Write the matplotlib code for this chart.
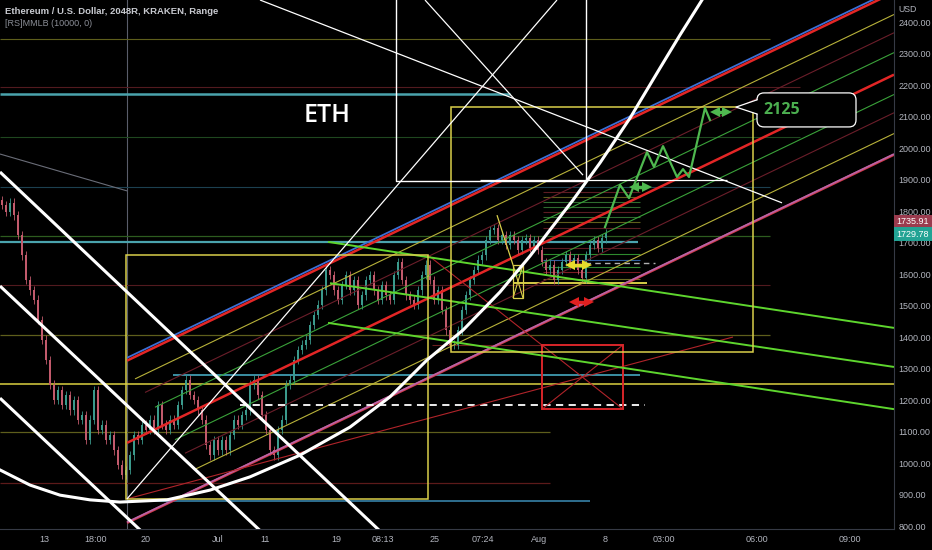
import matplotlib
matplotlib.use("Agg")
import matplotlib.pyplot as plt
from matplotlib.patches import Rectangle, FancyBboxPatch, Polygon
import numpy as np

plt.rcParams['font.family'] = ['Liberation Sans Narrow', 'Liberation Sans', 'DejaVu Sans']

# ---------------- data ----------------
title = "Ethereum / U.S. Dollar, 2048R, KRAKEN, Range"
indicator = "[RS]MMLB (10000, 0)"

closes = [1819, 1797, 1826, 1787, 1724, 1660, 1581, 1549, 1518, 1454,
          1391, 1327, 1248, 1200, 1232, 1184, 1216, 1168, 1200, 1137,
          1152, 1073, 1137, 1232, 1105, 1121, 1073, 1089, 1041, 994,
          962, 978, 1025, 1089, 1073, 1121, 1105, 1137, 1105, 1184,
          1121, 1105, 1137, 1121, 1184, 1232, 1264, 1216, 1200, 1168,
          1137, 1057, 1025, 1073, 1041, 1073, 1041, 1089, 1137, 1121,
          1152, 1168, 1248, 1264, 1216, 1152, 1105, 1041, 1025, 1105,
          1137, 1248, 1264, 1327, 1359, 1375, 1391, 1438, 1470, 1502,
          1549, 1613, 1597, 1549, 1518, 1565, 1597, 1549, 1581, 1502,
          1533, 1581, 1597, 1549, 1518, 1565, 1533, 1518, 1597, 1638,
          1581, 1533, 1518, 1502, 1549, 1597, 1629, 1581, 1518, 1549,
          1486, 1422, 1375, 1375, 1422, 1486, 1533, 1581, 1613, 1645,
          1660, 1708, 1740, 1746, 1708, 1724, 1692, 1724, 1708, 1676,
          1708, 1714, 1683, 1708, 1676, 1638, 1613, 1629, 1581, 1613,
          1638, 1660, 1629, 1651, 1613, 1587, 1660, 1692, 1708, 1683,
          1714, 1730]

xtick_pos = [44, 96, 146, 218, 265, 336, 383, 435, 483, 539, 605, 664, 757, 850]
xtick_labels = ["13", "18:00", "20", "Jul", "11", "19", "08:13", "25",
                "07:24", "Aug", "8", "03:00", "06:00", "09:00"]
ytick_vals = list(range(800, 2401, 100))
last_high = 1735.91
last_close = 1729.78
target_label = "2125"

# horizontal levels: price, x0, x1, colour, width
hlevels = [
    (2346, 0, 770, '#5e5e1c', 0.8),
    (2194, 0, 800, '#521a1f', 0.8),
    (2172, 0, 510, '#4aa3ad', 1.8),
    (2035, 0, 800, '#1f471f', 0.8),
    (1876, 0, 770, '#1c4050', 0.8),
    (1721, 0, 770, '#2d5c1f', 0.9),
    (1702, 0, 638, '#4aa3ad', 1.6),
    (1565, 0, 770, '#521a1f', 0.8),
    (1406, 0, 770, '#5e5e1c', 0.9),
    (1279, 173, 640, '#3b8fa3', 1.4),
    (1251, 0, 894, '#c9bf3c', 1.2),
    (1098, 0, 550, '#5e5e1c', 0.9),
    (936, 0, 550, '#5c1a1a', 0.9),
    (879, 127, 590, '#2f6f8f', 1.4),
    (1375, 432, 543, '#6b1e1e', 0.8),
    (1572, 513, 647, '#e6dc4c', 1.3),
]
short_levels = [1860, 1845, 1829, 1813, 1797, 1781, 1765, 1746,
                1683, 1664, 1645, 1622, 1606, 1584]
short_colors = ['#5c1c22', '#5e5e1c', '#2e6b2e', '#2e6b2e', '#5c1c22', '#2e6b2e', '#5e5e1c',
                '#5c1c22', '#5c1c22', '#2e8a2e', '#2f5f9f', '#2e8a2e', '#7a1c22', '#6b6b1f']
dashed_levels = [(1184, 240, 645, '#ffffff', 1.3), (1635, 585, 655, '#b0b0b0', 1.0)]

# rising channel lines: start x, start price, end x, end price, colour, width
channel = [
    (127, 1334, 894, 2503, '#3c6fd6', 1.3),
    (127, 1325, 894, 2494, '#e32626', 1.8),
    (135, 1267, 894, 2424, '#b8b23a', 0.8),
    (145, 1224, 894, 2366, '#6b1e2a', 0.8),
    (155, 1177, 894, 2303, '#3aa23a', 0.8),
    (127, 1064, 894, 2233, '#e32626', 1.8),
    (175, 1074, 894, 2170, '#3aa23a', 0.8),
    (185, 1031, 894, 2112, '#6b1e2a', 0.8),
    (195, 980, 894, 2046, '#b8b23a', 0.8),
    (127, 810, 894, 1979, '#d23a4a', 1.8),
    (127, 812, 894, 1981, '#b864a8', 1.2),
]
# descending green lines
green_desc = [(328, 1702, 894, 1429), (330, 1571, 894, 1305), (328, 1445, 894, 1171)]
# thick white descending lines
white_thick = [(0, 1924, 400, 724), (0, 1562, 280, 726), (0, 1206, 160, 728)]
# thin white lines
white_thin = [(127, 886, 557, 2470), (260, 2470, 782, 1826), (425, 2470, 583, 1914),
              (480, 1899, 727, 1899)]
# white arc
arc_x = [0, 30, 60, 90, 120, 167, 210, 250, 300, 350, 390, 427, 463, 500,
         530, 550, 573, 600, 630, 660, 680, 702]
arc_p = [978, 930, 898, 883, 876, 883, 914, 956, 1025, 1114, 1210, 1327, 1422,
         1543, 1657, 1740, 1835, 1953, 2095, 2254, 2359, 2470]
# projected path
path_x = [605, 620, 629, 647, 654, 663, 677, 683, 689, 705, 710]
path_p = [1749, 1883, 1841, 1987, 1940, 2006, 1908, 1933, 1908, 2127, 2089]

# ---------------- figure ----------------
fig = plt.figure(figsize=(9.32, 5.5), dpi=100, facecolor='black')
ax = fig.add_axes([0, 21 / 550, 894 / 932, 529 / 550])
ax.set_facecolor('black')
ax.set_xlim(0, 894)
ax.set_ylim(790.5, 2470)

def seg(x0, p0, x1, p1, c, lw, z=3, ls='-', dashes=None):
    l, = ax.plot([x0, x1], [p0, p1], color=c, lw=lw, zorder=z, ls=ls,
                 solid_capstyle='butt')
    if dashes:
        l.set_dashes(dashes)
    return l

# thin horizontal levels
for p, x0, x1, c, lw in hlevels:
    seg(x0, p, x1, p, c, lw, z=1.5)
for p, c in zip(short_levels, short_colors):
    seg(543, p, 640, p, c, 0.8, z=1.5)
for p, x0, x1, c, lw in dashed_levels:
    seg(x0, p, x1, p, c, lw, z=3, dashes=(4, 3))

# crosshair-like vertical and grey line
ax.axvline(127, color='#5a5d6a', lw=0.8, zorder=1.4)
seg(0, 1981, 127, 1864, '#6a6d78', 0.8)

# candles
n = len(closes)
xs = 2 + 4 * np.arange(n)
opens = [closes[0] + 15] + closes[:-1]
cs = np.array(closes)
os_ = np.array(opens)
up = cs >= os_
col = np.where(up, '#3b9a8c', '#c25a6c')
hi = np.maximum(cs, os_) + 14
lo = np.minimum(cs, os_) - 14
ax.vlines(xs, lo, hi, colors=col, lw=0.6, zorder=2)
ax.bar(xs, cs - os_, bottom=os_, width=1.8, color=col, zorder=2.1, linewidth=0)

# channel
for x0, p0, x1, p1, c, lw in channel:
    seg(x0, p0, x1, p1, c, lw, z=2.5)

# red thin lines & red box
seg(127, 886, 733, 1400, '#b0242a', 0.8)
seg(428, 1660, 623, 1171, '#b0242a', 0.8)
seg(542, 1171, 623, 1375, '#b0242a', 0.8)
ax.add_patch(Rectangle((542, 1171), 81, 204, fill=False, ec='#d8262a', lw=1.4, zorder=3))

# green descending
for x0, p0, x1, p1 in green_desc:
    seg(x0, p0, x1, p1, '#5ed62e', 1.4)

# yellow boxes
ax.add_patch(Rectangle((126, 886), 302, 774, fill=False, ec='#d9cf4a', lw=1.1, zorder=3))
ax.add_patch(Rectangle((451, 1352), 302, 778, fill=False, ec='#d9cf4a', lw=1.1, zorder=3))
seg(497, 1787, 513, 1629, '#d9cf4a', 0.9)
ax.add_patch(Rectangle((513, 1524), 10, 105, fill=False, ec='#d9cf4a', lw=0.9, zorder=3))
seg(513, 1629, 523, 1524, '#d9cf4a', 0.8)
seg(513, 1524, 523, 1629, '#d9cf4a', 0.8)

# white elements
for x0, p0, x1, p1 in white_thick:
    seg(x0, p0, x1, p1, '#ffffff', 2.2, z=4)
for x0, p0, x1, p1 in white_thin:
    seg(x0, p0, x1, p1, '#ffffff', 0.9, z=4)
ax.plot([396, 396, 586, 586], [2500, 1895, 1895, 2500], color='#ffffff', lw=1.0, zorder=4)
ax.plot(arc_x, arc_p, color='#ffffff', lw=2.2, zorder=4, solid_joinstyle='round')

# projected path & arrows
ax.plot(path_x, path_p, color='#4fb84f', lw=1.6, zorder=5)
def darrow(x0, x1, p, c):
    ax.plot([x0 + 3, x1 - 3], [p, p], color=c, lw=2.5, zorder=5, solid_capstyle='butt')
    ax.plot([x0 + 2.5], [p], marker='<', ms=6.5, color=c, mew=0, zorder=5)
    ax.plot([x1 - 2.5], [p], marker='>', ms=6.5, color=c, mew=0, zorder=5)
darrow(631, 649, 1876, '#4fb84f')
darrow(712, 729, 2114, '#4fb84f')
darrow(567, 589, 1629, '#e6dc2c')
darrow(571, 591, 1511, '#e02020')

# callout
box = FancyBboxPatch((757, 2067), 99, 108, boxstyle='round,pad=0,rounding_size=7',
                     mutation_aspect=3.175, fc='black', ec='white', lw=0.9, zorder=6)
ax.add_patch(box)
ax.add_patch(Polygon([[736, 2130], [758, 2153], [758, 2108]], closed=True,
                     fc='black', ec='none', zorder=6.5))
ax.plot([757, 736, 757], [2153, 2130, 2108], color='white', lw=0.9, zorder=6.6)
ax.text(763, 2121, target_label, color='#4caf50', fontsize=11.5, fontweight='bold',
        va='center', ha='left', family=['Open Sans', 'DejaVu Sans'], zorder=7)

# ETH label
ax.text(327, 2102, 'ETH', color='white', fontsize=18, ha='center', va='center',
        fontweight='semibold', family=['Open Sans', 'DejaVu Sans'], zorder=7)

# axes styling
for s in ['top', 'left']:
    ax.spines[s].set_visible(False)
for s in ['bottom', 'right']:
    ax.spines[s].set_color('#363a45')
    ax.spines[s].set_linewidth(0.8)
ax.yaxis.tick_right()
ax.set_yticks(ytick_vals)
ax.set_yticklabels([f'{v:.2f}' for v in ytick_vals])
ax.tick_params(axis='y', length=0, pad=3, labelsize=6.5, labelcolor='#b2b5be')
ax.set_xticks(xtick_pos)
ax.set_xticklabels(xtick_labels)
ax.tick_params(axis='x', length=0, pad=4, labelsize=6.5, labelcolor='#b2b5be')

# header texts
fig.text(5 / 932, 1 - 12 / 550, title, fontsize=6.8, color='#c8cad0', va='center',
         fontweight='bold')
fig.text(5 / 932, 1 - 24 / 550, indicator, fontsize=6.5, color='#8a8d96', va='center')
fig.text(898 / 932, 1 - 10 / 550, 'USD', fontsize=6.3, color='#b2b5be', va='center')

# last price labels
fig.text(913 / 932, 1 - 222 / 550, f'{last_high:.2f}', fontsize=6.5, color='white',
         ha='center', va='center',
         bbox=dict(boxstyle='square,pad=0.25', fc='#9b3b4e', ec='none'))
fig.text(913 / 932, 1 - 234 / 550, f'{last_close:.2f}', fontsize=6.5, color='white',
         ha='center', va='center',
         bbox=dict(boxstyle='square,pad=0.25', fc='#22a394', ec='none'))

fig.savefig('out.png', dpi=100, facecolor='black')
